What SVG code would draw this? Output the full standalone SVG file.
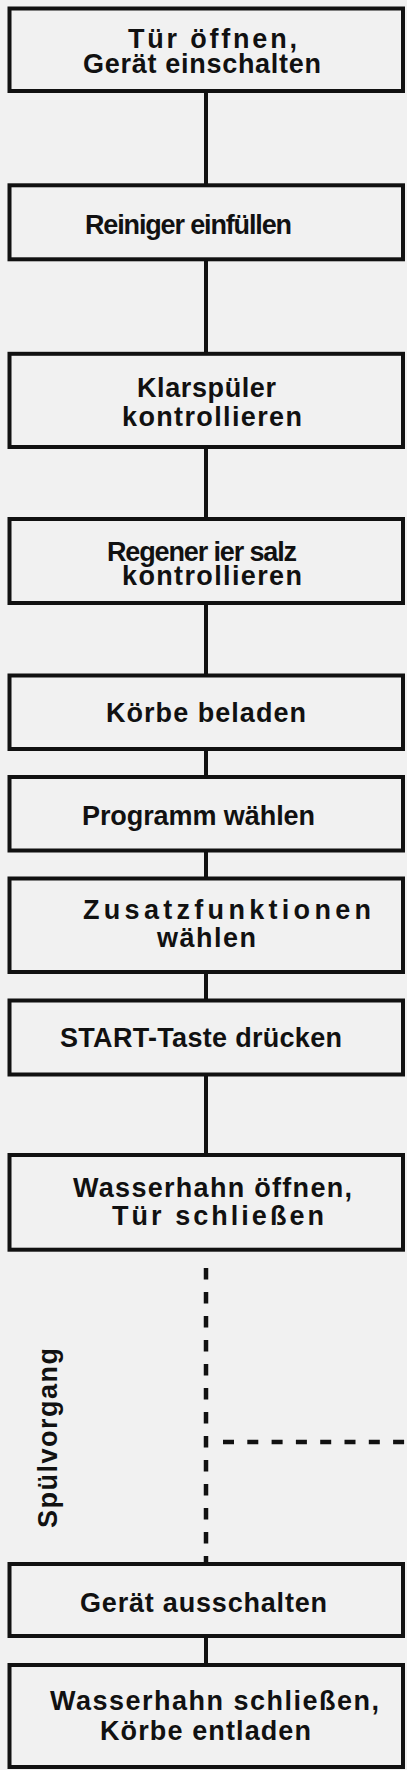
<svg xmlns="http://www.w3.org/2000/svg" width="407" height="1770" viewBox="0 0 407 1770">
<style>
.box{fill:#f1f1f1;stroke:#111;stroke-width:4}
.t{font-family:"Liberation Sans",Arial,sans-serif;font-weight:bold;font-size:27px;fill:#111}
.c{stroke:#111;stroke-width:4;fill:none}
.d{stroke:#111;stroke-width:4.5;fill:none}
</style>
<rect x="0" y="0" width="407" height="1770" fill="#f1f1f1"/>
<g id="connectors">
<line class="c" x1="206" y1="91" x2="206" y2="185"/>
<line class="c" x1="206" y1="259" x2="206" y2="354"/>
<line class="c" x1="206" y1="447" x2="206" y2="519"/>
<line class="c" x1="206" y1="603" x2="206" y2="675.5"/>
<line class="c" x1="206" y1="749" x2="206" y2="777"/>
<line class="c" x1="206" y1="850.5" x2="206" y2="878.5"/>
<line class="c" x1="206" y1="972" x2="206" y2="1000.5"/>
<line class="c" x1="206" y1="1074.5" x2="206" y2="1155"/>
<line class="c" x1="206" y1="1636" x2="206" y2="1665"/>
<line class="d" x1="206" y1="1268" x2="206" y2="1563" stroke-dasharray="11.5 12.5"/>
<line class="d" x1="223" y1="1442" x2="407" y2="1442" stroke-dasharray="11 13.3"/>
</g>
<g id="n1"><rect class="box" x="9.5" y="8.5" width="393.5" height="82.5"/>
<text class="t" x="128" y="48" font-size="29" textLength="169">Tür öffnen,</text>
<text class="t" x="83" y="73" textLength="238">Gerät einschalten</text></g>
<g id="n2"><rect class="box" x="9.5" y="185.3" width="393.5" height="74"/>
<text class="t" x="85" y="234" textLength="207">Reiniger einfüllen</text></g>
<g id="n3"><rect class="box" x="9.5" y="353.8" width="393.5" height="93.2"/>
<text class="t" x="137" y="397" textLength="139">Klarspüler</text>
<text class="t" x="122" y="426" textLength="180">kontrollieren</text></g>
<g id="n4"><rect class="box" x="9.5" y="519" width="393.5" height="84"/>
<text class="t" x="107" y="561" textLength="190">Regener ier salz</text>
<text class="t" x="122" y="585" textLength="180">kontrollieren</text></g>
<g id="n5"><rect class="box" x="9.5" y="675.5" width="393.5" height="73.5"/>
<text class="t" x="106" y="722" font-size="29" textLength="200">Körbe beladen</text></g>
<g id="n6"><rect class="box" x="9.5" y="777" width="393.5" height="73.5"/>
<text class="t" x="82" y="825" font-size="28" textLength="233">Programm wählen</text></g>
<g id="n7"><rect class="box" x="9.5" y="878.5" width="393.5" height="93.5"/>
<text class="t" x="83" y="919" font-size="26" textLength="288">Zusatzfunktionen</text>
<text class="t" x="157" y="947" textLength="99">wählen</text></g>
<g id="n8"><rect class="box" x="9.5" y="1000.5" width="393.5" height="74"/>
<text class="t" x="60" y="1047" font-size="28" textLength="282">START-Taste drücken</text></g>
<g id="n9"><rect class="box" x="9.5" y="1155" width="393.5" height="94.7"/>
<text class="t" x="73" y="1197" font-size="26" textLength="279">Wasserhahn öffnen,</text>
<text class="t" x="112" y="1225" font-size="26" textLength="212">Tür schließen</text></g>
<g id="label">
<text class="t" transform="translate(57 1528) rotate(-90)" font-size="28" textLength="180">Spülvorgang</text></g>
<g id="n10"><rect class="box" x="9.5" y="1564" width="393.5" height="72"/>
<text class="t" x="80" y="1612" font-size="28" textLength="247">Gerät ausschalten</text></g>
<g id="n11"><rect class="box" x="9.5" y="1665" width="393.5" height="102"/>
<text class="t" x="50" y="1710" font-size="27" textLength="329">Wasserhahn schließen,</text>
<text class="t" x="100" y="1740" font-size="27.5" textLength="211">Körbe entladen</text></g>
</svg>
